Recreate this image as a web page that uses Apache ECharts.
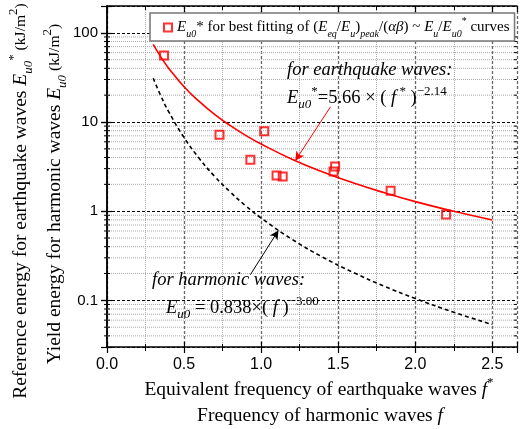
<!DOCTYPE html>
<html>
<head>
<meta charset="utf-8">
<script src="https://cdn.jsdelivr.net/npm/echarts@6/dist/echarts.min.js"></script>
<style>
  html, body { margin: 0; padding: 0; background: #fff; }
  #chart { width: 523px; height: 429px; }
</style>
</head>
<body>
<div id="chart"></div>
<script>
// measured points (f*, Eu0*)
const pointsF = [0.37, 0.73, 1.02, 0.93, 1.10, 1.14, 1.48, 1.47, 1.84, 2.20];
const pointsE = [55.6, 7.2, 7.9, 3.77, 2.52, 2.45, 3.18, 2.79, 1.69, 0.92];

// fitted curves
const curveF = [0.3, 0.35, 0.4, 0.5, 0.6, 0.7, 0.8, 0.9, 1.0, 1.2, 1.4, 1.6, 1.8, 2.0, 2.25, 2.5];
const quakeE = [74.4, 53.5, 40.2, 24.9, 16.9, 12.1, 9.12, 7.09, 5.66, 3.83, 2.75, 2.07, 1.61, 1.28, 0.998, 0.797];
const harmE = [31.0, 19.55, 13.09, 6.70, 3.88, 2.44, 1.64, 1.15, 0.838, 0.485, 0.305, 0.205, 0.144, 0.105, 0.0736, 0.0536];

// y minor grid values
const minorY = [0.04, 0.05, 0.06, 0.07, 0.08, 0.09,
  0.2, 0.3, 0.4, 0.5, 0.6, 0.7, 0.8, 0.9,
  2, 3, 4, 5, 6, 7, 8, 9,
  20, 30, 40, 50, 60, 70, 80, 90];

const xMin = 0, xMax = 2.66, yMin = 0.03, yMax = 200;

const serif = 'Liberation Serif';
const sans = 'Liberation Sans';

function rich(size, color) {
  const small = Math.round(size * 0.68);
  return {
    i: { fontFamily: serif, fontStyle: 'italic', fontSize: size, color: color, lineHeight: size + 8 },
    n: { fontFamily: serif, fontSize: size, color: color, lineHeight: size + 8 },
    sub: { fontFamily: serif, fontStyle: 'italic', fontSize: small, color: color, lineHeight: small, verticalAlign: 'bottom' },
    sup: { fontFamily: serif, fontSize: small, color: color, lineHeight: small, verticalAlign: 'top' },
    s: { fontFamily: serif, fontSize: size * 0.8, color: color, lineHeight: size + 8 }
  };
}

const chart = echarts.init(document.getElementById('chart'));

const grid = { left: 107, right: 6, top: 6, bottom: 82 };

function logLabel(v) {
  const e = Math.log10(v);
  if (Math.abs(e - Math.round(e)) > 1e-6) return '';
  return String(Number(v.toPrecision(3)));
}

const majorSplitX = { show: true, lineStyle: { color: '#666', type: [3, 2], width: 1.3 } };
const minorSplitX = { show: true, lineStyle: { color: '#aaa', type: [1, 1], width: 1 } };

chart.setOption({
  animation: false,
  grid: [grid, grid],
  legend: {
    left: 150, top: 13,
    padding: [3, 5, 2, 13],
    borderColor: '#777', borderWidth: 1.5, backgroundColor: '#fff',
    itemWidth: 8, itemHeight: 8,
    data: ['pts'],
    formatter: function () {
      return '{i|E}{sub|u0}{n|* for best fitting of (}{i|E}{sub|eq}{n|/}{i|E}{sub|u}{n|)}{sub|peak}{n|/(}{i|αβ}{n|) ~ }{i|E}{sub|u}{n|/}{i|E}{sub|u0}{sup|*}{n| curves}';
    },
    textStyle: { rich: rich(15, '#000') },
    z: 10
  },
  xAxis: [
    {
      gridIndex: 0, type: 'value', position: 'bottom', min: xMin, max: xMax, interval: 0.5,
      axisLine: { lineStyle: { color: '#000', width: 1.5 } },
      axisTick: { length: 6, lineStyle: { color: '#000', width: 1.2 } },
      minorTick: { show: true, splitNumber: 2, length: 4, lineStyle: { color: '#000', width: 1 } },
      axisLabel: {
        fontFamily: sans, fontSize: 16, color: '#000', margin: 10,
        formatter: function (v) { return Math.abs(v * 2 - Math.round(v * 2)) < 1e-6 ? v.toFixed(1) : ''; }
      },
      splitLine: majorSplitX,
      minorSplitLine: minorSplitX
    },
    {
      gridIndex: 0, type: 'value', position: 'top', min: xMin, max: xMax, interval: 0.5,
      axisLine: { lineStyle: { color: '#000', width: 1.5 } },
      axisTick: { inside: true, length: 6, lineStyle: { color: '#000', width: 1.2 } },
      minorTick: { show: true, splitNumber: 2, length: 4, lineStyle: { color: '#000' } },
      axisLabel: { show: false }, splitLine: { show: false }
    },
    {
      gridIndex: 1, type: 'value', position: 'bottom', min: xMin, max: xMax, interval: 0.5,
      axisLine: { show: false },
      axisTick: { inside: true, length: 5, lineStyle: { color: '#000', width: 1.2 } },
      minorTick: { show: true, splitNumber: 2, length: 3, lineStyle: { color: '#000' } },
      axisLabel: { show: false }, splitLine: { show: false }
    }
  ],
  yAxis: [
    {
      gridIndex: 0, type: 'log', position: 'left', min: yMin, max: yMax, logBase: 10,
      axisLine: { show: true, lineStyle: { color: '#000', width: 1.5 } },
      axisTick: { show: true, length: 6, lineStyle: { color: '#000', width: 1.2 } },
      axisLabel: { fontFamily: sans, fontSize: 15, color: '#000', margin: 9, formatter: logLabel, showMinLabel: false, showMaxLabel: false },
      splitLine: { show: true, lineStyle: { color: '#000', type: [3, 2], width: 1 } }
    },
    {
      gridIndex: 0, type: 'log', position: 'right', min: yMin, max: yMax, logBase: 10,
      axisLine: { show: true, lineStyle: { color: '#000', width: 1.5 } },
      axisTick: { show: true, inside: true, length: 6, lineStyle: { color: '#000', width: 1.2 } },
      axisLabel: { show: false }, splitLine: { show: false }
    },
    {
      gridIndex: 1, type: 'log', position: 'left', min: yMin, max: yMax, logBase: 10,
      axisLine: { show: false },
      axisTick: { show: true, inside: true, length: 5, lineStyle: { color: '#000', width: 1.2 } },
      axisLabel: { show: false }, splitLine: { show: false }
    }
  ],
  series: [
    {
      name: 'minor',
      type: 'custom',
      xAxisIndex: 0, yAxisIndex: 0,
      silent: true, z: 1,
      data: minorY.map(function (v) { return [0, v]; }),
      renderItem: function (params, api) {
        const cs = params.coordSys;
        const y = api.coord([0, api.value(1)])[1];
        const ls = { stroke: '#aaa', lineWidth: 1, lineDash: [1, 1] };
        const ts = { stroke: '#000', lineWidth: 1 };
        return {
          type: 'group',
          children: [
            { type: 'line', shape: { x1: cs.x, y1: y, x2: cs.x + cs.width, y2: y }, style: ls },
            { type: 'line', shape: { x1: cs.x - 3, y1: y, x2: cs.x + 3, y2: y }, style: ts },
            { type: 'line', shape: { x1: cs.x + cs.width - 3, y1: y, x2: cs.x + cs.width, y2: y }, style: ts }
          ]
        };
      }
    },
    {
      name: 'quake',
      type: 'line',
      xAxisIndex: 0, yAxisIndex: 0,
      data: curveF.map(function (f, i) { return [f, quakeE[i]]; }),
      smooth: true, showSymbol: false, z: 3,
      lineStyle: { color: '#ff0000', width: 1.6 },
      markLine: {
        silent: true, symbol: ['none', 'arrow'], symbolSize: [7, 9],
        label: { show: false },
        lineStyle: { color: '#ff0000', width: 1, type: 'solid' },
        data: [[{ coord: [1.45, 14.8] }, { coord: [1.222, 3.69] }]]
      }
    },
    {
      name: 'harm',
      type: 'line',
      xAxisIndex: 0, yAxisIndex: 0,
      data: curveF.map(function (f, i) { return [f, harmE[i]]; }),
      smooth: true, showSymbol: false, z: 3,
      lineStyle: { color: '#000', width: 1.6, type: [4, 3] },
      markLine: {
        silent: true, symbol: ['none', 'arrow'], symbolSize: [7, 9],
        label: { show: false },
        lineStyle: { color: '#000', width: 1, type: 'solid' },
        data: [[{ coord: [0.93, 0.194] }, { coord: [1.112, 0.609] }]]
      }
    },
    {
      name: 'pts',
      type: 'scatter',
      xAxisIndex: 0, yAxisIndex: 0,
      data: pointsF.map(function (f, i) { return [f, pointsE[i]]; }),
      symbol: 'rect', symbolSize: 8, z: 4,
      itemStyle: { color: 'rgba(255,255,255,0)', borderColor: '#ff0000', borderWidth: 2 }
    }
  ],
  graphic: [
    {
      type: 'text', left: 287, top: 61, z: 20,
      style: { text: '{i|for earthquake waves:}', rich: rich(18.5, '#ff0000') }
    },
    {
      type: 'text', left: 287, top: 85, z: 20,
      style: { text: '{i|E}{sub|u0}{sup|*}{n|=5.66 × ( }{i|f}{sup| *}{n| )}{sup|−2.14}', rich: rich(18.5, '#ff0000') }
    },
    {
      type: 'text', left: 152, top: 271, z: 20,
      style: { text: '{i|for harmonic waves:}', rich: rich(18.5, '#000') }
    },
    {
      type: 'text', left: 166, top: 295, z: 20,
      style: { text: '{i|E}{sub|u0}{n| = 0.838×( }{i|f}{n| )}{sup|−3.00}', rich: rich(18.5, '#000') }
    },
    {
      type: 'text', x: 319, y: 390, z: 20,
      style: { text: '{n|Equivalent frequency of earthquake waves }{i|f}{sup|*}', rich: rich(19.5, '#000'), align: 'center', verticalAlign: 'middle' }
    },
    {
      type: 'text', x: 320, y: 416, z: 20,
      style: { text: '{n|Frequency of harmonic waves }{i|f}', rich: rich(19.5, '#000'), align: 'center', verticalAlign: 'middle' }
    },
    {
      type: 'text', x: 21, y: 201, rotation: Math.PI / 2, z: 20,
      style: { text: '{n|Reference energy for earthquake waves }{i|E}{sub|u0}{sup|*}{s| (kJ/m}{sup|2}{s|)}', rich: rich(19.5, '#000'), align: 'center', verticalAlign: 'middle' }
    },
    {
      type: 'text', x: 55, y: 194, rotation: Math.PI / 2, z: 20,
      style: { text: '{n|Yield energy for harmonic waves }{i|E}{sub|u0}{s| (kJ/m}{sup|2}{s|)}', rich: rich(19.5, '#000'), align: 'center', verticalAlign: 'middle' }
    }
  ]
});
</script>
</body>
</html>
